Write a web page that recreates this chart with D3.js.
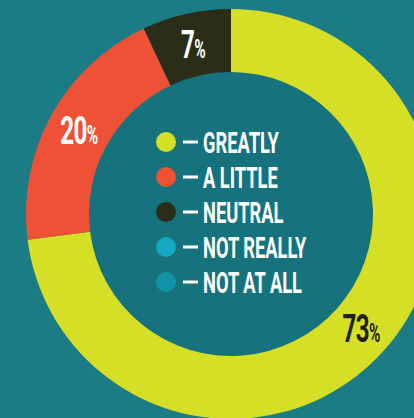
<!DOCTYPE html>
<html>
<head>
<meta charset="utf-8">
<script src="https://cdn.jsdelivr.net/npm/d3@7"></script>
<style>
  body { margin: 0; background: #1b7c85; }
  svg { display: block; }
</style>
</head>
<body>
<div id="chart"></div>
<script>
let categories = ["GREATLY", "A LITTLE", "NEUTRAL", "NOT REALLY", "NOT AT ALL"];
let values = [73, 20, 7, 0, 0];
let colors = ["#d5df25", "#ef5136", "#2a2d18", "#14a9c2", "#1493a7"];
let labelColors = ["#231f20", "#ffffff", "#ffffff", "#ffffff", "#ffffff"];

let width = 414;
let height = 418;
let cx = 231, cy = 214;
let outer = 205, inner = 142;
let squeeze = 0.62;

let data = categories.map((c, i) => ({name: c, value: values[i], color: colors[i], label: labelColors[i]}));

let svg = d3.select("#chart").append("svg")
    .attr("width", width)
    .attr("height", height);

svg.append("rect")
    .attr("width", width)
    .attr("height", height)
    .attr("fill", "#1b7c85");

let g = svg.append("g")
    .attr("transform", `translate(${cx},${cy})`);

let pie = d3.pie()
    .sort(null)
    .value(d => d.value);

let arc = d3.arc()
    .innerRadius(inner)
    .outerRadius(outer);

let arcs = pie(data);

g.append("circle")
    .attr("r", inner)
    .attr("fill", "#16737d");

g.selectAll("path")
    .data(arcs.filter(d => d.data.value > 0))
    .join("path")
        .attr("d", arc)
        .attr("fill", d => d.data.color);

// percent labels
let lab = g.selectAll("text.pct")
    .data(arcs.filter(d => d.data.value > 0))
    .join("text")
        .attr("class", "pct")
        .attr("transform", d => {
            let [x, y] = arc.centroid(d);
            return `translate(${x},${y + 13.5}) scale(${squeeze},1)`;
        })
        .attr("text-anchor", "middle")
        .attr("fill", d => d.data.label)
        .style("font-family", "Roboto, sans-serif")
        .style("font-weight", 700)
        .style("letter-spacing", "-1px");

lab.append("tspan")
    .style("font-size", "39px")
    .text(d => d.data.value);
lab.append("tspan")
    .style("font-size", "25px")
    .text("%");

// legend in the hole
let y = d3.scalePoint()
    .domain(categories)
    .range([142, 282]);

let legend = svg.append("g")
    .selectAll("g")
    .data(data)
    .join("g")
        .attr("transform", d => `translate(166,${y(d.name)})`);

legend.append("circle")
    .attr("r", 10)
    .attr("fill", d => d.color);

legend.append("rect")
    .attr("x", 17)
    .attr("y", -1.5)
    .attr("width", 15)
    .attr("height", 3)
    .attr("fill", "#ffffff");

legend.append("text")
    .attr("transform", `translate(37,10.5) scale(${squeeze},1)`)
    .attr("fill", "#ffffff")
    .style("font-family", "Roboto, sans-serif")
    .style("font-weight", 700)
    .style("font-size", "29.5px")
    .text(d => d.name);
</script>
</body>
</html>
